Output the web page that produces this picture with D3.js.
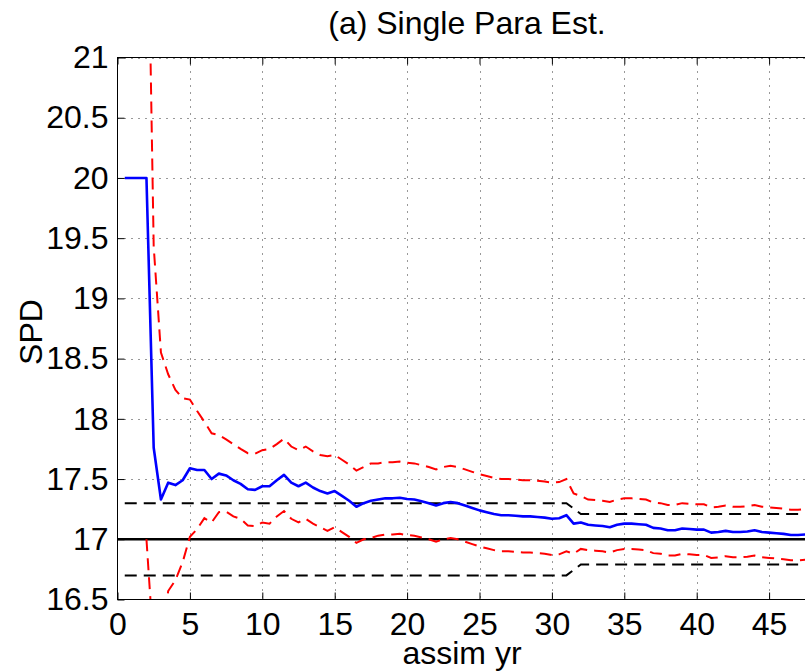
<!DOCTYPE html>
<html>
<head>
<meta charset="utf-8">
<script src="https://cdn.jsdelivr.net/npm/d3@7"></script>
<style>
  html, body { margin: 0; padding: 0; background: #fff; overflow: hidden; }
  svg { display: block; }
  text { font-family: "Liberation Sans", Arial, Helvetica, sans-serif; fill: #000; }
</style>
</head>
<body>
<svg id="chart" width="805" height="672"></svg>
<script>
// Assimilation years (half-year steps)
const assimYears = [
  0.5, 1, 1.5, 2, 2.5, 3, 3.5, 4, 4.5, 5,
  5.5, 6, 6.5, 7, 7.5, 8, 8.5, 9, 9.5, 10,
  10.5, 11, 11.5, 12, 12.5, 13, 13.5, 14, 14.5, 15,
  15.5, 16, 16.5, 17, 17.5, 18, 18.5, 19, 19.5, 20,
  20.5, 21, 21.5, 22, 22.5, 23, 23.5, 24, 24.5, 25,
  25.5, 26, 26.5, 27, 27.5, 28, 28.5, 29, 29.5, 30,
  30.5, 31, 31.5, 32, 32.5, 33, 33.5, 34, 34.5, 35,
  35.5, 36, 36.5, 37, 37.5, 38, 38.5, 39, 39.5, 40,
  40.5, 41, 41.5, 42, 42.5, 43, 43.5, 44, 44.5, 45,
  45.5, 46, 46.5, 47, 47.5
];

// Ensemble-mean SPD estimate
const spdMean = [
  20, 20, 20, 20, 17.76, 17.33, 17.47, 17.45, 17.49, 17.59,
  17.575, 17.575, 17.50, 17.545, 17.53, 17.49, 17.46, 17.415, 17.41, 17.44,
  17.44, 17.49, 17.535, 17.47, 17.44, 17.47, 17.43, 17.40, 17.38, 17.40,
  17.36, 17.32, 17.27, 17.30, 17.32, 17.33, 17.34, 17.34, 17.345, 17.335,
  17.33, 17.315, 17.30, 17.28, 17.30, 17.31, 17.30, 17.28, 17.26, 17.24,
  17.225, 17.21, 17.20, 17.20, 17.195, 17.19, 17.19, 17.185, 17.18, 17.17,
  17.175, 17.20, 17.13, 17.14, 17.12, 17.115, 17.11, 17.10, 17.12, 17.13,
  17.13, 17.125, 17.12, 17.095, 17.09, 17.075, 17.075, 17.09, 17.085, 17.08,
  17.08, 17.055, 17.06, 17.07, 17.06, 17.06, 17.065, 17.075, 17.06, 17.055,
  17.05, 17.045, 17.035, 17.035, 17.04
];

// Upper bound of the ensemble spread
const spdUpper = [
  null, null, null, 23.0, 19.43, 18.55, 18.37, 18.24, 18.17, 18.16,
  18.065, 17.975, 17.88, 17.865, 17.83, 17.79, 17.75, 17.715, 17.71, 17.74,
  17.75, 17.79, 17.835, 17.77, 17.74, 17.77, 17.73, 17.70, 17.69, 17.70,
  17.66, 17.62, 17.57, 17.60, 17.63, 17.63, 17.64, 17.64, 17.645, 17.635,
  17.63, 17.615, 17.60, 17.58, 17.60, 17.61, 17.60, 17.58, 17.56, 17.54,
  17.525, 17.51, 17.50, 17.50, 17.495, 17.49, 17.49, 17.485, 17.48, 17.47,
  17.475, 17.50, 17.38, 17.36, 17.33, 17.325, 17.32, 17.31, 17.33, 17.34,
  17.34, 17.335, 17.33, 17.305, 17.30, 17.285, 17.285, 17.30, 17.295, 17.29,
  17.29, 17.265, 17.27, 17.28, 17.27, 17.27, 17.275, 17.285, 17.27, 17.265,
  17.26, 17.255, 17.245, 17.245, 17.25
];

// Lower bound of the ensemble spread
const spdLower = [
  null, null, null, 17.0, 16.09, 16.11, 16.57, 16.66, 16.81, 17.02,
  17.085, 17.175, 17.14, 17.225, 17.23, 17.19, 17.17, 17.115, 17.11, 17.14,
  17.13, 17.19, 17.235, 17.17, 17.14, 17.17, 17.13, 17.10, 17.07, 17.10,
  17.06, 17.02, 16.97, 17.00, 17.01, 17.03, 17.04, 17.04, 17.045, 17.035,
  17.03, 17.015, 17.00, 16.98, 17.00, 17.01, 17.00, 16.98, 16.96, 16.94,
  16.925, 16.91, 16.90, 16.90, 16.895, 16.89, 16.89, 16.885, 16.88, 16.87,
  16.875, 16.90, 16.88, 16.92, 16.91, 16.905, 16.90, 16.89, 16.91, 16.92,
  16.92, 16.915, 16.91, 16.885, 16.88, 16.865, 16.865, 16.88, 16.875, 16.87,
  16.87, 16.845, 16.85, 16.86, 16.85, 16.85, 16.855, 16.865, 16.85, 16.845,
  16.84, 16.835, 16.825, 16.825, 16.83
];

// Observation-error band around the true value
const bandYears = [0.5, 31, 32, 47.5];
const bandUpper = [17.3, 17.3, 17.21, 17.21];
const bandLower = [16.7, 16.7, 16.79, 16.79];

// True parameter value
const trueValue = 17;

// Axis ticks
const xTicks = [0, 5, 10, 15, 20, 25, 30, 35, 40, 45];
const yTicks = [16.5, 17, 17.5, 18, 18.5, 19, 19.5, 20, 20.5, 21];
const yTickLabels = ["16.5", "17", "17.5", "18", "18.5", "19", "19.5", "20", "20.5", "21"];

const svg = d3.select("#chart");
const plotLeft = 117.5, plotTop = 57.5, plotBottom = 599.5;
const plotRight = plotLeft + 50 * 14.48;   // axis runs to 50, past the page edge
const fontSize = 32;

const x = d3.scaleLinear().domain([0, 50]).range([plotLeft, plotRight]);
const y = d3.scaleLinear().domain([16.5, 21]).range([plotBottom, plotTop]);

svg.append("defs").append("clipPath").attr("id", "plotClip")
  .append("rect").attr("x", plotLeft).attr("y", plotTop)
  .attr("width", plotRight - plotLeft).attr("height", plotBottom - plotTop);

// Dotted grid
const grid = svg.append("g");
grid.selectAll("line.vg").data(xTicks.slice(1)).join("line")
  .attr("x1", d => Math.round(x(d)) + 0.5).attr("x2", d => Math.round(x(d)) + 0.5)
  .attr("y1", plotTop).attr("y2", plotBottom)
  .attr("stroke", "#333").attr("stroke-width", 1).attr("stroke-dasharray", "1,6");
grid.selectAll("line.hg").data(yTicks.slice(1)).join("line")
  .attr("y1", d => Math.round(y(d)) + 0.5).attr("y2", d => Math.round(y(d)) + 0.5)
  .attr("x1", plotLeft).attr("x2", plotRight)
  .attr("stroke", "#333").attr("stroke-width", 1).attr("stroke-dasharray", "1,6");

const plot = svg.append("g").attr("clip-path", "url(#plotClip)");

// True value
plot.append("line")
  .attr("x1", x(0)).attr("x2", x(50))
  .attr("y1", y(trueValue)).attr("y2", y(trueValue))
  .attr("stroke", "#000").attr("stroke-width", 2.6);

// Error band
const bandLine = vals => d3.line()
  .x((d, i) => x(bandYears[i])).y(d => y(d))(vals);
[bandUpper, bandLower].forEach(vals => {
  plot.append("path").attr("d", bandLine(vals))
    .attr("fill", "none").attr("stroke", "#000").attr("stroke-width", 2)
    .attr("stroke-dasharray", "12,7");
});

// Ensemble spread
const seriesLine = d3.line()
  .defined(d => d[1] !== null)
  .x(d => x(d[0])).y(d => y(d[1]));
[spdUpper, spdLower].forEach(vals => {
  plot.append("path").attr("d", seriesLine(assimYears.map((t, i) => [t, vals[i]])))
    .attr("fill", "none").attr("stroke", "#ff0000").attr("stroke-width", 2)
    .attr("stroke-dasharray", "12,7");
});

// Ensemble mean
plot.append("path").attr("d", seriesLine(assimYears.map((t, i) => [t, spdMean[i]])))
  .attr("fill", "none").attr("stroke", "#0000ff").attr("stroke-width", 2.6)
  .attr("stroke-linejoin", "round");

// Axes box and inward ticks
svg.append("rect").attr("x", plotLeft).attr("y", plotTop)
  .attr("width", plotRight - plotLeft).attr("height", plotBottom - plotTop)
  .attr("fill", "none").attr("stroke", "#000").attr("stroke-width", 1);

const xAxisBottom = d3.axisBottom(x).tickValues(xTicks).tickSizeInner(-7).tickSizeOuter(0)
  .tickFormat(d3.format("d")).tickPadding(13);
const gxb = svg.append("g").attr("transform", `translate(0,${plotBottom})`).call(xAxisBottom);
gxb.select(".domain").remove();
gxb.selectAll("text").attr("font-size", fontSize).attr("font-family", null);

const gxt = svg.append("g").attr("transform", `translate(0,${plotTop})`)
  .call(d3.axisTop(x).tickValues(xTicks).tickSizeInner(-7).tickSizeOuter(0).tickFormat(""));
gxt.select(".domain").remove();

const yAxisLeft = d3.axisLeft(y).tickValues(yTicks).tickSizeInner(-7).tickSizeOuter(0)
  .tickFormat((d, i) => yTickLabels[i]).tickPadding(9);
const gyl = svg.append("g").attr("transform", `translate(${plotLeft},0)`).call(yAxisLeft);
gyl.select(".domain").remove();
gyl.selectAll("text").attr("font-size", fontSize).attr("font-family", null);

svg.selectAll(".tick line").attr("stroke", "#000");

// Titles
svg.append("text").attr("x", 467).attr("y", 34).attr("text-anchor", "middle")
  .attr("font-size", fontSize).text("(a) Single Para Est.");
svg.append("text").attr("x", 462).attr("y", 664).attr("text-anchor", "middle")
  .attr("font-size", fontSize).text("assim yr");
svg.append("text").attr("transform", "translate(42,332) rotate(-90)")
  .attr("text-anchor", "middle").attr("font-size", fontSize).text("SPD");
</script>
</body>
</html>
